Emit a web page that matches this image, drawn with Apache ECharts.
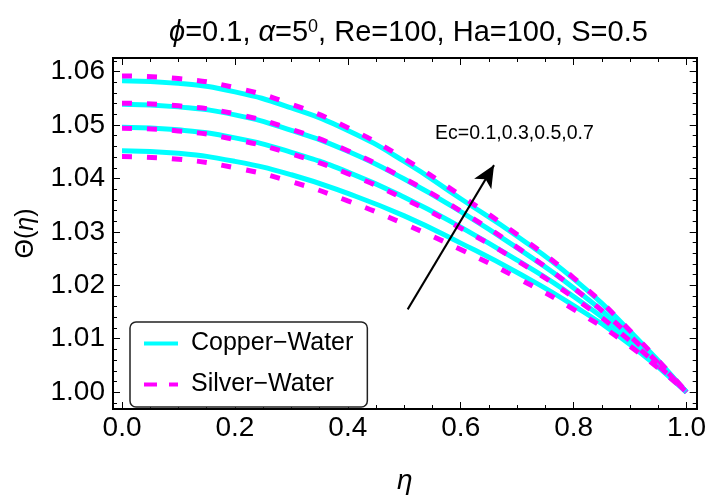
<!DOCTYPE html>
<html>
<head>
<meta charset="utf-8">
<script src="https://cdn.jsdelivr.net/npm/echarts@6/dist/echarts.min.js"></script>
<style>
  html, body { margin: 0; padding: 0; background: #fff; }
  #chart { width: 709px; height: 500px; }
</style>
</head>
<body>
<div id="chart"></div>
<script>
// eta grid and profiles (Ec = 0.1, 0.3, 0.5, 0.7)
const eta = [0, 0.1, 0.2, 0.3, 0.4, 0.5, 0.6, 0.7, 0.8, 0.9, 1.0];

const copperEc07 = [1.0583, 1.0578, 1.0562, 1.0532, 1.0490, 1.0432, 1.0362, 1.0292, 1.0212, 1.0114, 1.0000];
const copperEc05 = [1.0539, 1.0534, 1.0519, 1.0490, 1.0451, 1.0399, 1.0338, 1.0270, 1.0195, 1.0105, 1.0000];
const copperEc03 = [1.0496, 1.0491, 1.0476, 1.0449, 1.0412, 1.0365, 1.0309, 1.0247, 1.0179, 1.0097, 1.0000];
const copperEc01 = [1.0452, 1.0447, 1.0432, 1.0407, 1.0372, 1.0330, 1.0279, 1.0224, 1.0162, 1.0089, 1.0000];

const silverEc07 = [1.0592, 1.0587, 1.0570, 1.0539, 1.0495, 1.0437, 1.0368, 1.0295, 1.0214, 1.0115, 1.0000];
const silverEc05 = [1.0541, 1.0536, 1.0521, 1.0492, 1.0452, 1.0400, 1.0339, 1.0271, 1.0195, 1.0105, 1.0000];
const silverEc03 = [1.0494, 1.0489, 1.0473, 1.0446, 1.0409, 1.0362, 1.0307, 1.0246, 1.0177, 1.0096, 1.0000];
const silverEc01 = [1.0441, 1.0436, 1.0420, 1.0394, 1.0358, 1.0315, 1.0267, 1.0214, 1.0155, 1.0086, 1.0000];

const xTicks = [0, 0.2, 0.4, 0.6, 0.8, 1.0];
const xMinor = [0, 0.05, 0.1, 0.15, 0.2, 0.25, 0.3, 0.35, 0.4, 0.45, 0.5, 0.55, 0.6, 0.65, 0.7, 0.75, 0.8, 0.85, 0.9, 0.95, 1.0];
const yTicks = [1.00, 1.01, 1.02, 1.03, 1.04, 1.05, 1.06];
const yMinor = [];
for (let k = 499; k <= 531; k++) yMinor.push(+(k * 0.002).toFixed(3));

const arrowFrom = [0.506, 1.0155];
const arrowTo = [0.659, 1.0425];

const copperName = 'Copper\u2212Water';
const silverName = 'Silver\u2212Water';

const FONT = 'Liberation Sans, Arial, sans-serif';
const xMin = -0.016, xMax = 1.018;
const yMin = 0.99685, yMax = 1.06255;

function pts(arr) {
  return eta.map((x, i) => [x, arr[i]]);
}

function xAx(pos, ticks, len, labels) {
  return {
    type: 'value', position: pos, min: xMin, max: xMax,
    axisLine: { show: true, onZero: false, lineStyle: { color: '#000', width: 2 } },
    axisTick: { show: true, inside: true, length: len, customValues: ticks, lineStyle: { color: '#000', width: 1 } },
    axisLabel: labels ? {
      show: true, customValues: xTicks, margin: 5, color: '#000', fontSize: 28, fontFamily: FONT,
      formatter: v => v.toFixed(1)
    } : { show: false },
    splitLine: { show: false }
  };
}

function yAx(pos, ticks, len, labels) {
  return {
    type: 'value', position: pos, min: yMin, max: yMax,
    axisLine: { show: true, onZero: false, lineStyle: { color: '#000', width: 2 } },
    axisTick: { show: true, inside: true, length: len, customValues: ticks, lineStyle: { color: '#000', width: 1 } },
    axisLabel: labels ? {
      show: true, customValues: yTicks, margin: 8, color: '#000', fontSize: 28, fontFamily: FONT,
      formatter: v => v.toFixed(2)
    } : { show: false },
    splitLine: { show: false }
  };
}

const xAxes = [xAx('bottom', xTicks, 7, true), xAx('bottom', xMinor, 4, false), xAx('top', xTicks, 7, false), xAx('top', xMinor, 4, false)];
xAxes[0].name = 'η';
xAxes[0].nameLocation = 'middle';
xAxes[0].nameGap = 58;
xAxes[0].nameTextStyle = { fontSize: 28, fontStyle: 'italic', color: '#000', fontFamily: FONT };

const yAxes = [yAx('left', yTicks, 7, true), yAx('left', yMinor, 4, false), yAx('right', yTicks, 7, false), yAx('right', yMinor, 4, false)];
yAxes[0].name = '{n|Θ(}{i|η}{n|)}';
yAxes[0].nameLocation = 'middle';
yAxes[0].nameGap = 74;
yAxes[0].nameRotate = 90;
yAxes[0].nameTextStyle = {
  rich: {
    n: { fontSize: 25, color: '#000', fontFamily: FONT },
    i: { fontSize: 25, color: '#000', fontStyle: 'italic', fontFamily: FONT }
  }
};

function copper(arr) {
  return {
    name: copperName, type: 'line', data: pts(arr), smooth: true, symbol: 'none',
    lineStyle: { color: '#00FFFF', width: 5 }, itemStyle: { color: '#00FFFF' }, z: 2
  };
}
function silver(arr) {
  return {
    name: silverName, type: 'line', data: pts(arr), smooth: true, symbol: 'none',
    lineStyle: { color: '#FF00FF', width: 5, type: [10, 15] }, itemStyle: { color: '#FF00FF' }, z: 3
  };
}

const chart = echarts.init(document.getElementById('chart'));
chart.setOption({
  animation: false,
  backgroundColor: '#fff',
  title: {
    text: '{i|ϕ}=0.1, {i|α}=5{s|0}, Re=100, Ha=100, S=0.5',
    left: 164, top: 13,
    textStyle: {
      fontSize: 29, fontWeight: 'normal', color: '#000', fontFamily: FONT,
      rich: {
        i: { fontSize: 29, fontStyle: 'italic', color: '#000', fontFamily: FONT },
        s: { fontSize: 18, color: '#000', fontFamily: FONT, verticalAlign: 'top', padding: [0, 0, 12, 0] }
      }
    }
  },
  grid: { left: 113, right: 10, top: 58, bottom: 81, containLabel: false },
  xAxis: xAxes,
  yAxis: yAxes,
  legend: {
    data: [
      { name: copperName },
      { name: silverName, lineStyle: { type: [13, 12] } }
    ],
    orient: 'vertical',
    left: 130, top: 322,
    itemWidth: 34, itemHeight: 14, itemGap: 16,
    padding: [9, 14, 10, 12],
    borderColor: '#222', borderWidth: 1.5, borderRadius: 6,
    backgroundColor: '#fff',
    itemStyle: { opacity: 0 },
    lineStyle: { width: 4 },
    textStyle: { fontSize: 25, color: '#000', fontFamily: FONT, padding: [0, 0, 0, 8] }
  },
  graphic: [{
    type: 'text', left: 435, top: 124,
    style: { text: 'Ec=0.1,0.3,0.5,0.7', fontSize: 19.5, fill: '#000', fontFamily: FONT }
  }],
  series: [
    copper(copperEc01), copper(copperEc03), copper(copperEc05), copper(copperEc07),
    silver(silverEc01), silver(silverEc03), silver(silverEc05), silver(silverEc07),
    {
      name: 'arrow', type: 'line', data: [], symbol: 'none', silent: true,
      markLine: {
        silent: true, symbol: ['none', 'arrow'], symbolSize: [15, 22],
        label: { show: false },
        lineStyle: { color: '#000', width: 2, type: 'solid' },
        data: [[{ coord: arrowFrom }, { coord: arrowTo }]]
      }
    }
  ]
});
</script>
</body>
</html>
